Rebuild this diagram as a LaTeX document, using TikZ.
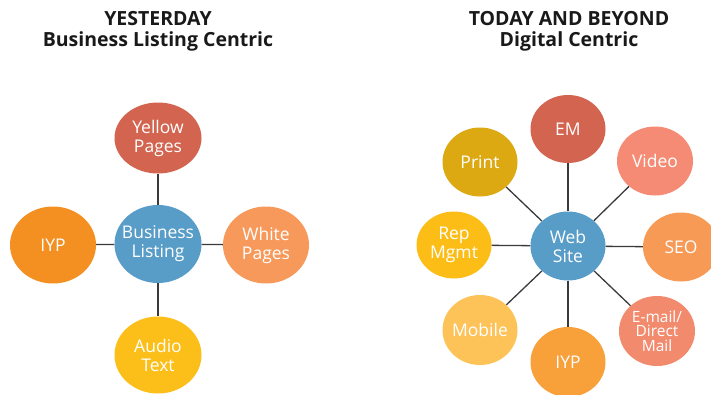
\documentclass[tikz,border=0pt]{standalone}
\usepackage{fontspec}
\setmainfont{Open Sans}
\usetikzlibrary{shapes.geometric}
\definecolor{cred}{HTML}{D26450}
\definecolor{cblue}{HTML}{589CC8}
\definecolor{corange}{HTML}{F39021}
\definecolor{cwhitep}{HTML}{F7995A}
\definecolor{caudio}{HTML}{FCBF1A}
\definecolor{cprint}{HTML}{DCA912}
\definecolor{cvideo}{HTML}{F58B74}
\definecolor{crep}{HTML}{FBBD16}
\definecolor{cseo}{HTML}{F69A55}
\definecolor{cmobile}{HTML}{FDC258}
\definecolor{ciyp}{HTML}{F8A03A}
\definecolor{cmail}{HTML}{F28A6E}
\definecolor{cline}{HTML}{3A3A3A}
\tikzset{
  bubble/.style={ellipse, inner xsep=-18pt, inner ysep=-6pt, text=white, align=center,
    font=\fontsize{17.5}{19}\selectfont},
  title/.style={align=center, text=black!90, font=\bfseries\fontsize{19.5}{21}\selectfont},
  link/.style={draw=cline, line width=1.3pt}
}
\begin{document}
\begin{tikzpicture}[x=1pt,y=-1pt]
\useasboundingbox (0,0) rectangle (711,394);
\clip (0,0) rectangle (711,394);
% titles
\node[title] (t1) at (158,31) {YESTERDAY\\Business Listing Centric};
\node[title] (t2) at (569,31) {TODAY AND BEYOND\\Digital Centric};
% left diagram
\node[bubble, fill=cblue, minimum width=87pt, minimum height=78pt] (bl) at (158,244) {Business\\Listing};
\node[bubble, fill=cred, minimum width=87pt, minimum height=71pt] (yp) at (158,138) {Yellow\\Pages};
\node[bubble, fill=corange, minimum width=86pt, minimum height=77pt] (iyp1) at (53,245) {IYP};
\node[bubble, fill=cwhitep, minimum width=86pt, minimum height=77pt] (wp) at (266,245) {White\\Pages};
\node[bubble, fill=caudio, minimum width=87pt, minimum height=77pt] (at) at (158,355) {Audio\\Text};
\draw[link] (bl) -- (yp);
\draw[link] (bl) -- (iyp1);
\draw[link] (bl) -- (wp);
\draw[link] (bl) -- (at);
% right diagram
\node[bubble, fill=cblue, minimum width=75pt, minimum height=69pt] (ws) at (568,246) {Web\\Site};
\node[bubble, fill=cred, minimum width=75pt, minimum height=68pt] (em) at (568,129) {EM};
\node[bubble, fill=cvideo, minimum width=76pt, minimum height=69pt] (vid) at (655,161) {Video};
\node[bubble, fill=cprint, minimum width=75pt, minimum height=69pt] (pr) at (480,162) {Print};
\node[bubble, fill=crep, minimum width=75pt, minimum height=67pt] (rep) at (454,245) {Rep\\Mgmt};
\node[bubble, fill=cseo, minimum width=76pt, minimum height=69pt] (seo) at (681,247) {SEO};
\node[bubble, fill=cmobile, minimum width=75pt, minimum height=70pt] (mob) at (480,330) {Mobile};
\node[bubble, fill=ciyp, minimum width=75pt, minimum height=70pt] (iyp2) at (568,362) {IYP};
\node[bubble, fill=cmail, minimum width=76pt, minimum height=70pt, font=\fontsize{15.5}{14.5}\selectfont] (em2) at (657,331) {E-mail/\\Direct\\Mail};
\foreach \n in {em,vid,pr,rep,seo,mob,iyp2,em2} \draw[link] (ws) -- (\n);
\end{tikzpicture}
\end{document}
